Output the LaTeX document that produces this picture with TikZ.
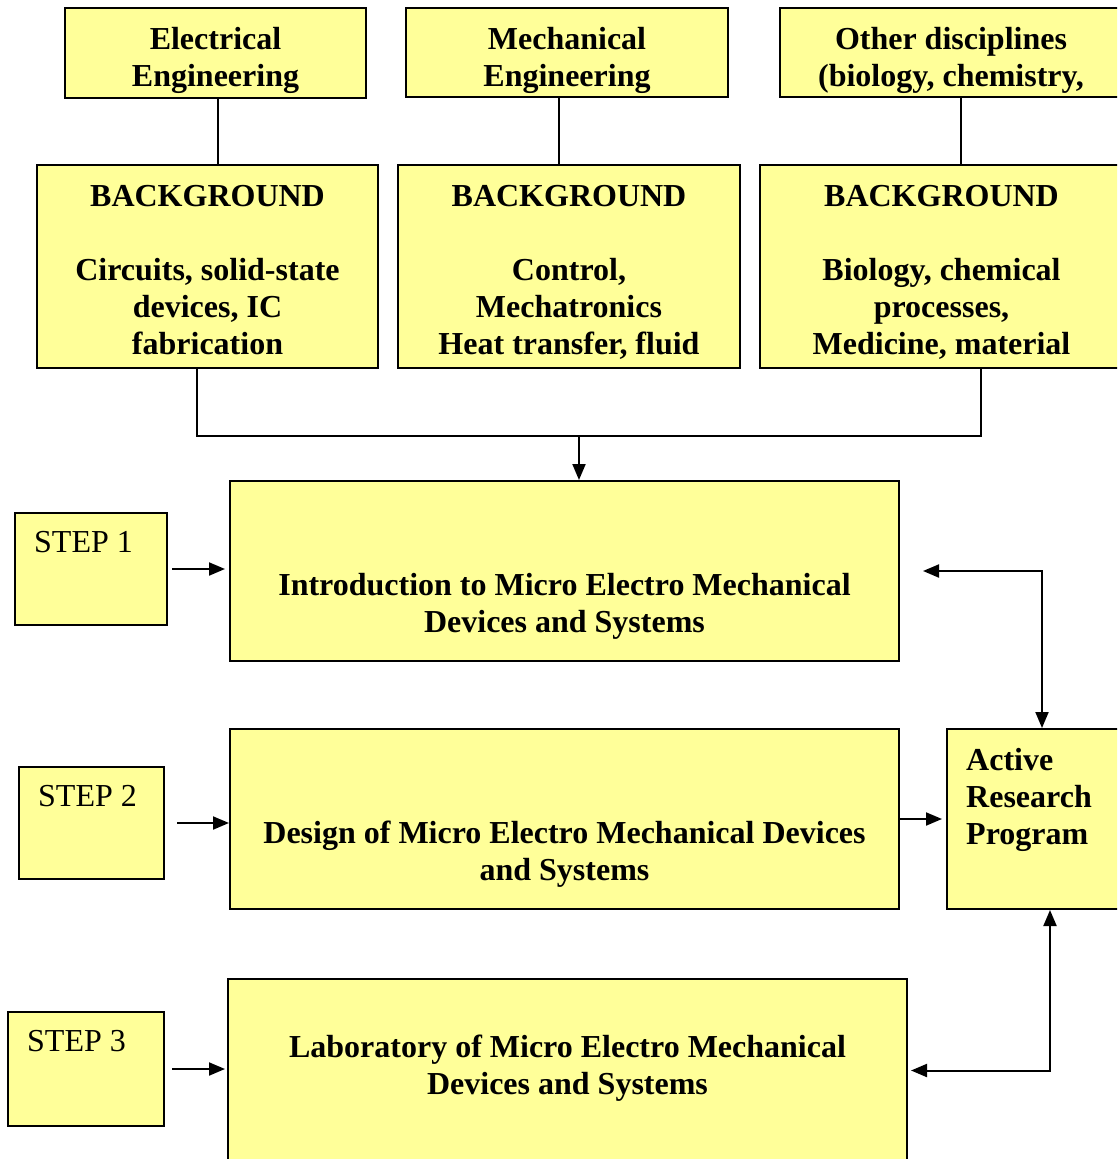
\documentclass[tikz,border=0pt]{standalone}
\usepackage{fontspec}
\setmainfont{Liberation Serif}
\usetikzlibrary{arrows.meta}
\definecolor{boxyellow}{HTML}{FFFF99}
\tikzset{
  yellowbox/.style={
    rectangle,
    draw=black,
    line width=2pt,
    fill=boxyellow,
    inner sep=0pt
  },
  boxtext/.style={
    anchor=north,
    align=center,
    draw=none,
    fill=none,
    inner sep=0pt,
    font=\fontsize{32pt}{37pt}\selectfont\bfseries
  },
  steptext/.style={
    anchor=north west,
    align=left,
    draw=none,
    fill=none,
    inner sep=0pt,
    font=\fontsize{32pt}{37pt}\selectfont
  },
  flowlink/.style={line width=2pt},
  flowarrow/.style={-{Triangle[length=16pt,width=13pt]},line width=2pt},
  flowboth/.style={{Triangle[length=16pt,width=13pt]}-{Triangle[length=16pt,width=13pt]},line width=2pt}
}
\begin{document}
\begin{tikzpicture}[x=1pt,y=-1pt]
  \useasboundingbox (0,0) rectangle (1117,1159);
  \clip (0,0) rectangle (1117,1159);
  % disciplines
  \node[yellowbox, minimum width=301pt, minimum height=90pt,
    label={[boxtext, yshift=-20.3pt]north:{Electrical\\Engineering}}] (ee) at (215.5,53) {};
  \node[yellowbox, minimum width=322pt, minimum height=89pt,
    label={[boxtext, yshift=-20.3pt]north:{Mechanical\\Engineering}}] (me) at (567,52.5) {};
  \node[yellowbox, minimum width=342pt, minimum height=89pt,
    label={[boxtext, yshift=-20.3pt]north:{Other disciplines\\(biology, chemistry,}}] (od) at (951,52.5) {};
  % backgrounds
  \node[yellowbox, minimum width=341pt, minimum height=203pt,
    label={[boxtext, yshift=-21.3pt]north:{BACKGROUND\\[37pt]Circuits, solid-state\\devices, IC\\fabrication}}] (bgee) at (207.5,266.5) {};
  \node[yellowbox, minimum width=342pt, minimum height=203pt,
    label={[boxtext, yshift=-21.3pt]north:{BACKGROUND\\[37pt]Control,\\Mechatronics\\Heat transfer, fluid}}] (bgme) at (569,266.5) {};
  \node[yellowbox, minimum width=363pt, minimum height=203pt,
    label={[boxtext, yshift=-21.3pt]north:{BACKGROUND\\[37pt]Biology, chemical\\processes,\\Medicine, material}}] (bgod) at (941.5,266.5) {};
  % courses
  \node[yellowbox, minimum width=669pt, minimum height=180pt,
    label={[boxtext, yshift=-93.3pt]north:{Introduction to Micro Electro Mechanical\\Devices and Systems}}] (intro) at (564.5,571) {};
  \node[yellowbox, minimum width=669pt, minimum height=180pt,
    label={[boxtext, yshift=-93pt]north:{Design of Micro Electro Mechanical Devices\\and Systems}}] (design) at (564.5,819) {};
  \node[yellowbox, minimum width=679pt, minimum height=183pt,
    label={[boxtext, yshift=-57pt]north:{Laboratory of Micro Electro Mechanical\\Devices and Systems}}] (lab) at (567.5,1070.5) {};
  \node[yellowbox, minimum width=175pt, minimum height=180pt,
    label={[boxtext, anchor=north west, align=left, xshift=20pt, yshift=-20pt]north west:{Active\\Research\\Program}}] (active) at (1034.5,819) {};
  % steps
  \node[yellowbox, minimum width=152pt, minimum height=112pt,
    label={[steptext, xshift=20pt, yshift=-19.5pt]north west:{STEP 1}}] (step1) at (91,569) {};
  \node[yellowbox, minimum width=145pt, minimum height=112pt,
    label={[steptext, xshift=20pt, yshift=-19.5pt]north west:{STEP 2}}] (step2) at (91.5,823) {};
  \node[yellowbox, minimum width=156pt, minimum height=114pt,
    label={[steptext, xshift=20pt, yshift=-19.5pt]north west:{STEP 3}}] (step3) at (86,1069) {};
  \coordinate (merge) at (579,436);
  % connectors
  \draw[flowlink] ([xshift=2.5pt]ee.south) -- ([xshift=2.5pt]ee.south |- bgee.north);
  \draw[flowlink] ([xshift=-8pt]me.south) -- ([xshift=-8pt]me.south |- bgme.north);
  \draw[flowlink] ([xshift=10pt]od.south) -- ([xshift=10pt]od.south |- bgod.north);
  \draw[flowlink] ([xshift=-10.5pt]bgee.south) |- (merge) -| ([xshift=39.5pt]bgod.south);
  \draw[flowarrow] (merge) -- ([xshift=14.5pt]intro.north);
  \draw[flowarrow] ([xshift=4pt]step1.east) -- ([xshift=-4pt]step1.east -| intro.west);
  \draw[flowarrow] ([xshift=12pt]step2.east) -- (step2.east -| design.west);
  \draw[flowarrow] ([xshift=7pt]step3.east) -- ([xshift=-2pt]step3.east -| lab.west);
  \draw[flowarrow] (design.east) -- ([xshift=-4pt]design.east -| active.west);
  \draw[flowboth] ([xshift=23pt]intro.east) -| ([xshift=7.5pt]active.north);
  \draw[flowboth] ([xshift=3pt]lab.east) -| ([xshift=15.5pt]active.south);
\end{tikzpicture}
\end{document}
